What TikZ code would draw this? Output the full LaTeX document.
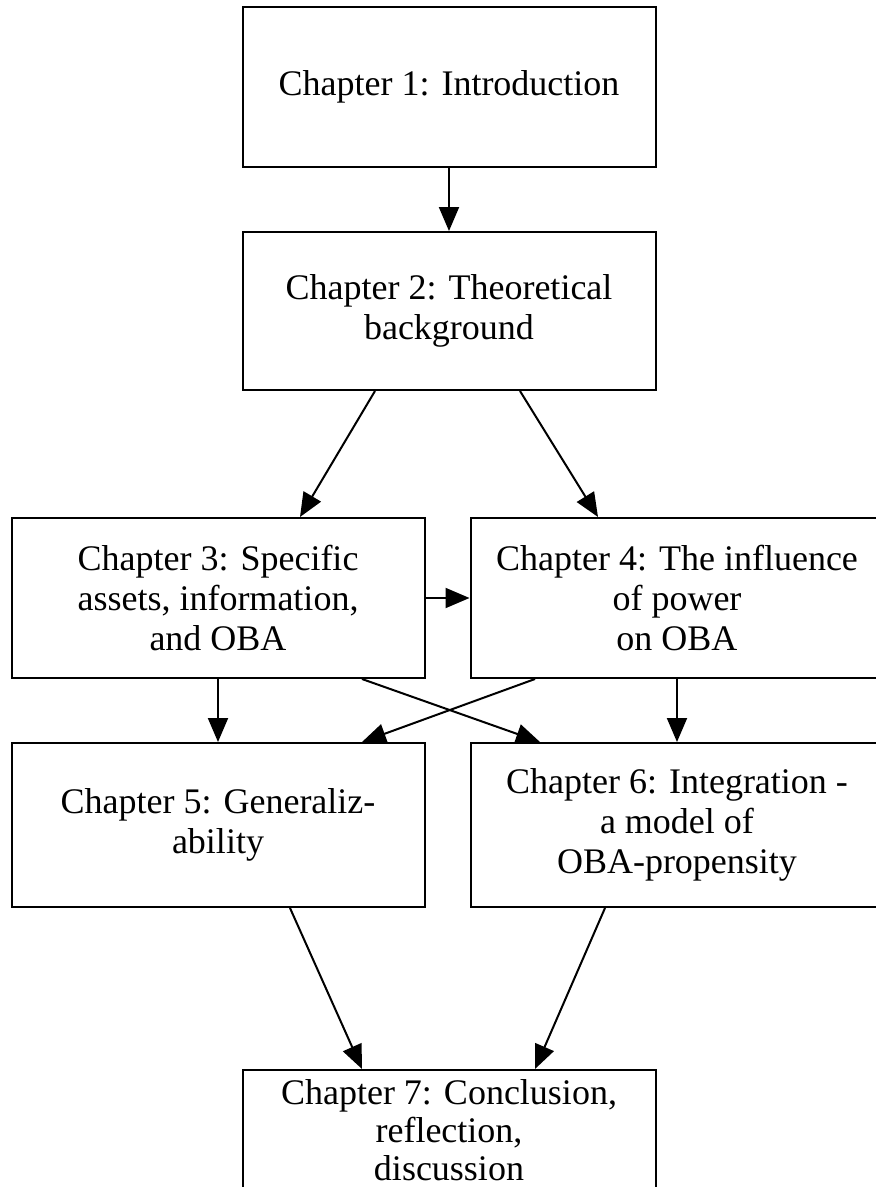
\documentclass[tikz,border=0pt]{standalone}
\usepackage{fontspec}
\setmainfont{Liberation Serif}
\usetikzlibrary{arrows.meta}
\begin{document}
\begin{tikzpicture}[x=1pt,y=1pt,
  chap/.style={draw,line width=2pt,rectangle,minimum width=413pt,minimum height=160pt,
    align=center,inner sep=0pt,font=\fontsize{36}{40}\selectfont},
  conn/.style={line width=2pt,-{Triangle[length=24pt,width=20pt]}}]
\useasboundingbox (0,0) rectangle (876,-1187);
\clip (0,0) rectangle (876,-1187);
\node[chap] (b1) at (449,-87) {Chapter 1: Introduction};
\node[chap,minimum height=158pt] (b2) at (449,-311) {Chapter 2: Theoretical\\background};
\node[chap] (b3) at (218,-598) {Chapter 3: Specific\\assets, information,\\and OBA};
\node[chap] (b4) at (677,-598) {Chapter 4: The influence\\of power\\on OBA};
\node[chap,minimum height=164pt] (b5) at (218,-825) {Chapter 5: Generaliz-\\ability};
\node[chap,minimum height=164pt] (b6) at (677,-825) {Chapter 6: Integration -\\a model of\\OBA-propensity};
\node[chap,minimum height=120pt,font=\fontsize{36}{38}\selectfont] (b7) at (449,-1130) {Chapter 7: Conclusion,\\reflection,\\discussion};
\draw[conn] (b1.south) -- (b2.north);
\draw[conn] ([xshift=-74pt]b2.south) -- ([xshift=82pt]b3.north);
\draw[conn] ([xshift=71pt]b2.south) -- ([xshift=-79pt]b4.north);
\draw[conn] (b3.east) -- (b4.west);
\draw[conn] (b3.south) -- (b5.north);
\draw[conn] ([xshift=144pt]b3.south) -- ([xshift=-137pt]b6.north);
\draw[conn] ([xshift=-142pt]b4.south) -- ([xshift=144pt]b5.north);
\draw[conn] (b4.south) -- (b6.north);
\draw[conn] ([xshift=72pt]b5.south) -- ([xshift=-87pt]b7.north);
\draw[conn] ([xshift=-72pt]b6.south) -- ([xshift=86pt]b7.north);
\end{tikzpicture}
\end{document}
